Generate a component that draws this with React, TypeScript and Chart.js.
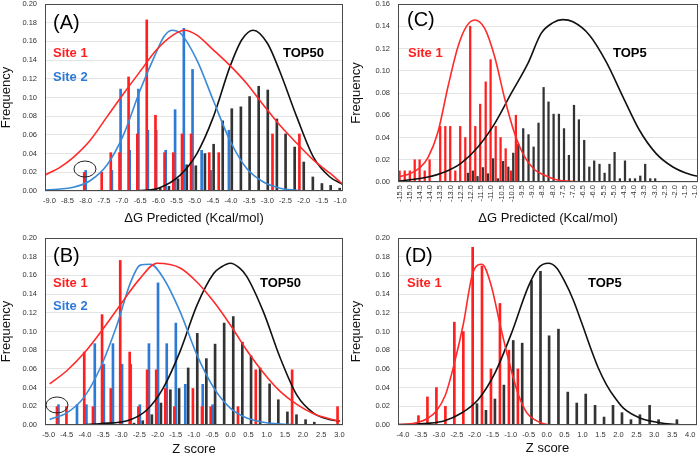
import React, { useEffect, useRef } from "react";
import { Chart, registerables } from "chart.js";
Chart.register(...registerables);

const FONT = "'Liberation Sans', Arial, Helvetica, sans-serif";
const RED_BAR = "#ff1f1f";
const BLUE_BAR = "#2d7ad6";
const BLACK_BAR = "#333333";
const RED_LINE = "#ff2a2a";
const BLUE_LINE = "#3a8ad8";
const BLACK_LINE = "#111111";

// ---------- Panel A : ΔG, TOP50 ----------
const aXTicks = [-9.0, -8.5, -8.0, -7.5, -7.0, -6.5, -6.0, -5.5, -5.0, -4.5, -4.0, -3.5, -3.0, -2.5, -2.0, -1.5, -1.0];
const aSite1X = [-8.04, -7.56, -7.31, -7.07, -6.82, -6.58, -6.32, -6.08, -5.83, -5.59, -5.35, -5.10, -4.60, -4.34, -2.86, -2.12];
const aSite1Y = [0.020, 0.020, 0.041, 0.041, 0.122, 0.061, 0.183, 0.081, 0.041, 0.041, 0.061, 0.061, 0.041, 0.041, 0.061, 0.061];
const aSite2X = [-8.0, -7.28, -7.04, -6.79, -6.55, -6.29, -6.06, -5.80, -5.54, -5.30, -5.06, -4.81, -4.56, -4.06];
const aSite2Y = [0.022, 0.022, 0.109, 0.0435, 0.109, 0.065, 0.065, 0.0435, 0.087, 0.174, 0.130, 0.0435, 0.022, 0.065];
const aTopX = [-5.95, -5.71, -5.46, -5.22, -4.97, -4.72, -4.48, -4.23, -3.98, -3.73, -3.49, -3.24, -2.99, -2.74, -2.50, -2.25, -2.00, -1.75, -1.50, -1.26, -1.01];
const aTopY = [0.003, 0.005, 0.013, 0.028, 0.027, 0.040, 0.050, 0.075, 0.088, 0.090, 0.101, 0.112, 0.108, 0.077, 0.061, 0.047, 0.031, 0.015, 0.008, 0.006, 0.003];
const aSite1CurveX = [-9.12, -8.7, -8.34, -7.88, -7.42, -6.96, -6.50, -6.05, -5.59, -5.28, -4.95, -4.49, -4.0, -3.57, -3.11, -2.65, -2.19, -1.73, -1.28, -0.92];
const aSite1CurveY = [0.017, 0.0255, 0.036, 0.054, 0.079, 0.104, 0.128, 0.151, 0.167, 0.172, 0.167, 0.151, 0.133, 0.115, 0.092, 0.070, 0.051, 0.033, 0.019, 0.007];
const aSite2CurveX = [-9.12, -8.34, -7.88, -7.42, -6.96, -6.50, -6.05, -5.85, -5.63, -5.40, -4.94, -4.49, -4.03, -3.57, -3.11, -2.65, -2.19, -2.0];
const aSite2CurveY = [0.001, 0.004, 0.011, 0.0275, 0.060, 0.108, 0.149, 0.165, 0.172, 0.169, 0.140, 0.097, 0.054, 0.024, 0.0096, 0.003, 0.0007, 0.0];
const aTopCurveX = [-7.0, -6.5, -6.0, -5.4, -4.94, -4.49, -4.03, -3.7, -3.39, -3.0, -2.65, -2.19, -1.73, -1.28, -0.92];
const aTopCurveY = [0.0, 0.0006, 0.003, 0.017, 0.040, 0.079, 0.133, 0.162, 0.172, 0.158, 0.127, 0.079, 0.036, 0.015, 0.007];

// ---------- Panel B : Z score, TOP50 ----------
const bXTicks = [-5.0, -4.5, -4.0, -3.5, -3.0, -2.5, -2.0, -1.5, -1.0, -0.5, 0.0, 0.5, 1.0, 1.5, 2.0, 2.5, 3.0];
const bSite1X = [-4.77, -4.51, -4.02, -3.78, -3.53, -3.29, -3.03, -2.77, -2.53, -2.29, -2.04, -1.79, -1.54, -1.03, -0.78, -0.54, 0.21, 0.70, 1.70, 2.95];
const bSite1Y = [0.0196, 0.0196, 0.078, 0.0196, 0.118, 0.039, 0.176, 0.078, 0.0196, 0.059, 0.059, 0.039, 0.0196, 0.039, 0.0196, 0.0196, 0.0196, 0.059, 0.059, 0.0196];
const bSite2X = [-4.73, -4.22, -3.96, -3.73, -3.48, -3.23, -2.98, -2.74, -2.49, -2.24, -1.99, -1.75, -1.50, -1.24, -0.76, -0.49];
const bSite2Y = [0.0217, 0.0217, 0.0217, 0.087, 0.065, 0.087, 0.065, 0.065, 0.0217, 0.087, 0.152, 0.087, 0.109, 0.0435, 0.0435, 0.0217];
const bTopX = [-2.65, -2.41, -2.16, -1.91, -1.65, -1.41, -1.16, -0.91, -0.66, -0.42, -0.17, 0.08, 0.33, 0.57, 0.82, 1.08, 1.32, 1.57, 1.82, 2.07, 2.31];
const bTopY = [0.002, 0.0046, 0.011, 0.0235, 0.0377, 0.039, 0.061, 0.098, 0.071, 0.0865, 0.109, 0.116, 0.0886, 0.074, 0.061, 0.044, 0.027, 0.014, 0.011, 0.0057, 0.003];
const bSite1CurveX = [-4.97, -4.5, -4.0, -3.5, -3.0, -2.5, -2.02, -1.38, -0.92, -0.46, 0.0, 0.45, 0.91, 1.37, 1.83, 2.29, 2.75, 3.02];
const bSite1CurveY = [0.044, 0.058, 0.078, 0.103, 0.130, 0.156, 0.173, 0.168, 0.153, 0.132, 0.107, 0.080, 0.056, 0.036, 0.022, 0.012, 0.0064, 0.004];
const bSite2CurveX = [-4.97, -4.5, -4.04, -3.58, -3.12, -2.75, -2.48, -2.2, -1.84, -1.38, -0.92, -0.46, 0.0, 0.45, 0.91, 1.4, 2.0];
const bSite2CurveY = [0.006, 0.013, 0.029, 0.061, 0.107, 0.152, 0.171, 0.172, 0.157, 0.121, 0.075, 0.040, 0.018, 0.0075, 0.003, 0.001, 0.0];
const bTopCurveX = [-4.0, -3.6, -2.75, -2.30, -1.84, -1.38, -0.92, -0.46, -0.25, 0.0, 0.25, 0.45, 0.91, 1.37, 1.83, 2.29, 2.75, 3.02];
const bTopCurveY = [0.0003, 0.0014, 0.0057, 0.016, 0.040, 0.079, 0.128, 0.162, 0.169, 0.173, 0.168, 0.159, 0.121, 0.072, 0.032, 0.0128, 0.0057, 0.004];

// ---------- Panel C : ΔG, TOP5 ----------
const cXTicks = [-15.5, -15.0, -14.5, -14.0, -13.5, -13.0, -12.5, -12.0, -11.5, -11.0, -10.5, -10.0, -9.5, -9.0, -8.5, -8.0, -7.5, -7.0, -6.5, -6.0, -5.5, -5.0, -4.5, -4.0, -3.5, -3.0, -2.5, -2.0, -1.5, -1.0];
const cSite1X = [-15.50, -15.25, -15.00, -14.76, -14.52, -14.27, -14.03, -13.51, -13.26, -13.02, -12.77, -12.53, -12.28, -12.04, -11.79, -11.55, -11.28, -11.04, -10.79, -10.55, -10.30, -10.04, -9.80];
const cSite1Y = [0.01, 0.01, 0.01, 0.02, 0.02, 0.01, 0.02, 0.05, 0.05, 0.05, 0.01, 0.05, 0.04, 0.14, 0.05, 0.07, 0.09, 0.11, 0.05, 0.04, 0.03, 0.01, 0.06];
const cTopX = [-12.15, -11.91, -11.68, -11.42, -11.17, -10.92, -10.68, -10.43, -10.17, -9.93, -9.68, -9.44, -9.18, -8.93, -8.69, -8.44, -8.20, -7.95, -7.69, -7.44, -7.20, -6.95, -6.71, -6.45, -6.20, -5.96, -5.70, -5.45, -5.21, -4.96, -4.70, -4.45, -4.21, -3.96, -3.70, -3.46, -3.21, -2.97];
const cTopY = [0.008, 0.010, 0.005, 0.013, 0.0075, 0.021, 0.003, 0.0186, 0.0135, 0.026, 0.034, 0.048, 0.0426, 0.0315, 0.053, 0.085, 0.072, 0.061, 0.061, 0.048, 0.024, 0.069, 0.056, 0.0375, 0.0135, 0.019, 0.016, 0.008, 0.016, 0.0267, 0.003, 0.019, 0.003, 0.003, 0.0054, 0.016, 0.003, 0.003];
const cSite1CurveX = [-15.55, -14.93, -14.5, -14.11, -13.62, -13.13, -12.64, -12.23, -11.82, -11.33, -10.84, -10.35, -9.86, -9.37, -8.88, -8.39, -7.82, -7.0, -5.0, -3.0, -0.87];
const cSite1CurveY = [0.0045, 0.008, 0.013, 0.022, 0.045, 0.0856, 0.1216, 0.1396, 0.1456, 0.138, 0.1126, 0.075, 0.0435, 0.0225, 0.011, 0.006, 0.002, 0.0005, 0.0, 0.0, 0.0];
const cTopCurveX = [-15.58, -14.11, -13.29, -12.48, -11.66, -10.84, -10.03, -9.21, -8.56, -8.0, -7.5, -7.0, -6.19, -5.37, -4.55, -3.74, -2.92, -2.10, -1.28, -0.87];
const cTopCurveY = [0.0006, 0.0045, 0.009, 0.017, 0.0315, 0.0525, 0.0796, 0.1066, 0.1336, 0.143, 0.146, 0.144, 0.132, 0.108, 0.0766, 0.0465, 0.0255, 0.0135, 0.0069, 0.005];

// ---------- Panel D : Z score, TOP5 ----------
const dXTicks = [-4.0, -3.5, -3.0, -2.5, -2.0, -1.5, -1.0, -0.5, 0.0, 0.5, 1.0, 1.5, 2.0, 2.5, 3.0, 3.5, 4.0];
const dSite1X = [-3.57, -3.32, -3.07, -2.82, -2.57, -2.32, -2.06, -1.80, -1.55, -1.30, -1.05, -0.80];
const dSite1Y = [0.01, 0.03, 0.04, 0.02, 0.11, 0.10, 0.19, 0.17, 0.06, 0.13, 0.08, 0.06];
const dTopX = [-1.94, -1.69, -1.44, -1.19, -0.93, -0.68, -0.42, -0.17, 0.07, 0.33, 0.59, 0.84, 1.09, 1.35, 1.60, 1.85, 2.10, 2.35, 2.60, 2.87, 3.12, 3.63];
const dTopY = [0.0228, 0.0157, 0.0278, 0.0427, 0.0904, 0.0875, 0.1545, 0.1644, 0.0954, 0.1025, 0.0352, 0.0235, 0.0331, 0.021, 0.0085, 0.021, 0.0132, 0.0057, 0.011, 0.021, 0.0057, 0.0057];
const dSite1CurveX = [-4.14, -3.82, -3.57, -3.32, -3.07, -2.82, -2.57, -2.32, -2.06, -1.80, -1.55, -1.30, -1.05, -0.80, -0.55, -0.30, -0.05, 0.1];
const dSite1CurveY = [0.0005, 0.001, 0.003, 0.007, 0.015, 0.032, 0.066, 0.108, 0.162, 0.172, 0.150, 0.108, 0.068, 0.034, 0.013, 0.005, 0.001, 0.0];
const dTopCurveX = [-4.14, -3.30, -2.84, -2.37, -1.91, -1.44, -0.98, -0.51, -0.23, 0.05, 0.28, 0.51, 0.74, 0.98, 1.21, 1.44, 1.67, 1.91, 2.14, 2.60, 3.07, 3.53, 4.0];
const dTopCurveY = [0.0004, 0.0018, 0.0046, 0.0128, 0.027, 0.0555, 0.098, 0.148, 0.168, 0.173, 0.168, 0.153, 0.134, 0.109, 0.084, 0.061, 0.043, 0.0288, 0.018, 0.0075, 0.003, 0.0007, 0.0];

const yTicks020 = [0, 0.02, 0.04, 0.06, 0.08, 0.1, 0.12, 0.14, 0.16, 0.18, 0.2];
const yTicks016 = [0, 0.02, 0.04, 0.06, 0.08, 0.1, 0.12, 0.14, 0.16];

type Series = { x: number[]; y: number[]; color: string; thickness?: number; mode?: string };
type Label = { text: string; dx: number; dy: number; font: string; color: string };
type Cfg = {
  left: number; top: number; width: number; height: number;
  area: { left: number; top: number; right: number; bottom: number };
  xMin: number; xMax: number; xTicks: number[]; yMax: number; yTicks: number[];
  xTitle: string; titlePad: number; rotateX: boolean;
  bars: Series[]; curves: Series[]; labels: Label[];
  ellipse?: { x: number; y: number; rx: number; ry: number };
};

const zip = (xs: number[], ys: number[]) => xs.map((x, i) => ({ x, y: ys[i] }));
const big = `20px ${FONT}`;
const bold = `bold 13px ${FONT}`;

const panels: Cfg[] = [
  {
    left: 0, top: 0, width: 350, height: 228,
    area: { left: 45, top: 4, right: 343, bottom: 191 },
    xMin: -9.12, xMax: -0.92, xTicks: aXTicks, yMax: 0.2, yTicks: yTicks020,
    xTitle: "ΔG Predicted (Kcal/mol)", titlePad: 3.5, rotateX: false,
    bars: [
      { x: aTopX, y: aTopY, color: BLACK_BAR, thickness: 2 },
      { x: aSite1X, y: aSite1Y, color: RED_BAR, thickness: 2 },
      { x: aSite2X, y: aSite2Y, color: BLUE_BAR, thickness: 2 },
    ],
    curves: [
      { x: aSite1CurveX, y: aSite1CurveY, color: RED_LINE },
      { x: aSite2CurveX, y: aSite2CurveY, color: BLUE_LINE },
      { x: aTopCurveX, y: aTopCurveY, color: BLACK_LINE },
    ],
    labels: [
      { text: "(A)", dx: 8, dy: 19, font: big, color: "#000" },
      { text: "Site 1", dx: 8, dy: 49, font: bold, color: RED_BAR },
      { text: "Site 2", dx: 8, dy: 73, font: bold, color: BLUE_BAR },
      { text: "TOP50", dx: 238, dy: 49, font: bold, color: "#000" },
    ],
    ellipse: { x: -8.02, y: 0.0235, rx: 11, ry: 8 },
  },
  {
    left: 350, top: 0, width: 349, height: 228,
    area: { left: 48, top: 4, right: 348, bottom: 182 },
    xMin: -15.58, xMax: -0.87, xTicks: cXTicks, yMax: 0.16, yTicks: yTicks016,
    xTitle: "ΔG Predicted (Kcal/mol)", titlePad: 3.5, rotateX: true,
    bars: [
      { x: cTopX, y: cTopY, color: BLACK_BAR, thickness: 1.6 },
      { x: cSite1X, y: cSite1Y, color: RED_BAR, thickness: 1.6 },
    ],
    curves: [
      { x: cSite1CurveX, y: cSite1CurveY, color: RED_LINE },
      { x: cTopCurveX, y: cTopCurveY, color: BLACK_LINE },
    ],
    labels: [
      { text: "(C)", dx: 9, dy: 16, font: big, color: "#000" },
      { text: "Site 1", dx: 10, dy: 49, font: bold, color: RED_BAR },
      { text: "TOP5", dx: 215, dy: 49, font: bold, color: "#000" },
    ],
  },
  {
    left: 0, top: 228, width: 350, height: 229,
    area: { left: 45, top: 10, right: 343, bottom: 197 },
    xMin: -5.1, xMax: 3.1, xTicks: bXTicks, yMax: 0.2, yTicks: yTicks020,
    xTitle: "Z score", titlePad: 0.8, rotateX: false,
    bars: [
      { x: bTopX, y: bTopY, color: BLACK_BAR, thickness: 2 },
      { x: bSite1X, y: bSite1Y, color: RED_BAR, thickness: 2 },
      { x: bSite2X, y: bSite2Y, color: BLUE_BAR, thickness: 2 },
    ],
    curves: [
      { x: bSite1CurveX, y: bSite1CurveY, color: RED_LINE },
      { x: bSite2CurveX, y: bSite2CurveY, color: BLUE_LINE },
      { x: bTopCurveX, y: bTopCurveY, color: BLACK_LINE },
    ],
    labels: [
      { text: "(B)", dx: 8, dy: 18, font: big, color: "#000" },
      { text: "Site 1", dx: 8, dy: 45, font: bold, color: RED_BAR },
      { text: "Site 2", dx: 8, dy: 68, font: bold, color: BLUE_BAR },
      { text: "TOP50", dx: 215, dy: 45, font: bold, color: "#000" },
    ],
    ellipse: { x: -4.77, y: 0.0214, rx: 11, ry: 8 },
  },
  {
    left: 350, top: 228, width: 349, height: 229,
    area: { left: 48, top: 10, right: 347, bottom: 197 },
    xMin: -4.14, xMax: 4.19, xTicks: dXTicks, yMax: 0.2, yTicks: yTicks020,
    xTitle: "Z score", titlePad: 1.8, rotateX: false,
    bars: [
      { x: dTopX, y: dTopY, color: BLACK_BAR, thickness: 2 },
      { x: dSite1X, y: dSite1Y, color: RED_BAR, thickness: 2 },
    ],
    curves: [
      { x: dSite1CurveX, y: dSite1CurveY, color: RED_LINE },
      { x: dTopCurveX, y: dTopCurveY, color: BLACK_LINE },
    ],
    labels: [
      { text: "(D)", dx: 7, dy: 18, font: big, color: "#000" },
      { text: "Site 1", dx: 9, dy: 45, font: bold, color: RED_BAR },
      { text: "TOP5", dx: 190, dy: 45, font: bold, color: "#000" },
    ],
  },
];

function buildConfig(cfg: Cfg): any {
  const datasets: any[] = [
    ...cfg.curves.map((c) => ({
      type: "line", data: zip(c.x, c.y), borderColor: c.color, borderWidth: 1.6,
      pointRadius: 0, tension: 0.4, cubicInterpolationMode: "monotone", fill: false, order: 0,
    })),
    ...cfg.bars.map((b) => ({
      type: "bar", data: zip(b.x, b.y), backgroundColor: b.color,
      barThickness: b.thickness ?? 2, grouped: false, order: 1,
    })),
  ];
  const overlay = {
    id: "overlay",
    afterDraw(chart: any) {
      const { ctx, chartArea: a, scales } = chart;
      ctx.save();
      ctx.strokeStyle = "#4a4a4a";
      ctx.lineWidth = 1;
      ctx.strokeRect(Math.round(a.left) + 0.5, Math.round(a.top) + 0.5, Math.round(a.right - a.left) - 1, Math.round(a.bottom - a.top) - 1);
      if (cfg.rotateX) {
        ctx.font = `7.5px ${FONT}`;
        ctx.fillStyle = "#333";
        ctx.textAlign = "right";
        ctx.textBaseline = "middle";
        for (const v of cfg.xTicks) {
          const px = scales.x.getPixelForValue(v);
          ctx.save();
          ctx.translate(px, a.bottom + 3);
          ctx.rotate(-Math.PI / 2);
          ctx.fillText(v.toFixed(1), 0, 0);
          ctx.restore();
        }
      }
      ctx.textAlign = "left";
      ctx.textBaseline = "middle";
      for (const l of cfg.labels) {
        ctx.font = l.font;
        ctx.fillStyle = l.color;
        ctx.fillText(l.text, a.left + l.dx, a.top + l.dy);
      }
      if (cfg.ellipse) {
        const e = cfg.ellipse;
        ctx.beginPath();
        ctx.strokeStyle = "#222";
        ctx.lineWidth = 1;
        ctx.ellipse(scales.x.getPixelForValue(e.x), scales.y.getPixelForValue(e.y), e.rx, e.ry, 0, 0, Math.PI * 2);
        ctx.stroke();
      }
      ctx.restore();
    },
  };
  return {
    type: "line",
    data: { datasets },
    options: {
      animation: false,
      responsive: false,
      maintainAspectRatio: false,
      devicePixelRatio: 1,
      layout: { padding: { top: cfg.area.top, right: cfg.width - cfg.area.right, left: 0, bottom: 0 } },
      plugins: { legend: { display: false }, tooltip: { enabled: false } },
      scales: {
        x: {
          type: "linear", min: cfg.xMin, max: cfg.xMax, offset: false,
          grid: { display: false, drawTicks: false },
          border: { display: false },
          ticks: {
            display: !cfg.rotateX, autoSkip: false, maxRotation: 0, minRotation: 0,
            font: { size: 7.5, family: FONT }, color: "#333", padding: 5,
            callback: (v: any) => Number(v).toFixed(1),
          },
          afterBuildTicks: (s: any) => { s.ticks = cfg.xTicks.map((v) => ({ value: v })); },
          afterFit: (s: any) => { s.height = cfg.height - cfg.area.bottom; s.paddingLeft = 0; s.paddingRight = 0; },
          title: { display: true, text: cfg.xTitle, color: "#111", font: { size: 13, family: FONT, lineHeight: 1 }, padding: { top: 0, bottom: cfg.titlePad } },
        },
        y: {
          type: "linear", min: 0, max: cfg.yMax,
          grid: { color: "#e4e4e4", drawTicks: false, lineWidth: 1 },
          border: { display: false },
          ticks: {
            font: { size: 7.5, family: FONT }, color: "#333", padding: 8,
            callback: (v: any) => Number(v).toFixed(2),
          },
          afterBuildTicks: (s: any) => { s.ticks = cfg.yTicks.map((v) => ({ value: v })); },
          afterFit: (s: any) => { s.width = cfg.area.left; s.paddingTop = 0; s.paddingBottom = 0; },
          title: { display: true, text: "Frequency", color: "#111", font: { size: 13, family: FONT, lineHeight: 1 }, padding: { top: 0, bottom: 0 } },
        },
      },
    },
    plugins: [overlay],
  };
}

function Panel({ cfg }: { cfg: Cfg }) {
  const ref = useRef<HTMLCanvasElement>(null);
  useEffect(() => {
    const chart = new Chart(ref.current as HTMLCanvasElement, buildConfig(cfg));
    return () => chart.destroy();
  }, [cfg]);
  return (
    <canvas
      ref={ref}
      width={cfg.width}
      height={cfg.height}
      style={{ position: "absolute", left: cfg.left, top: cfg.top, width: cfg.width, height: cfg.height }}
    />
  );
}

export default function App() {
  return (
    <div style={{ position: "absolute", left: 0, top: 0, width: 699, height: 457, background: "#fff", overflow: "hidden" }}>
      {panels.map((p, i) => (
        <Panel key={i} cfg={p} />
      ))}
    </div>
  );
}
